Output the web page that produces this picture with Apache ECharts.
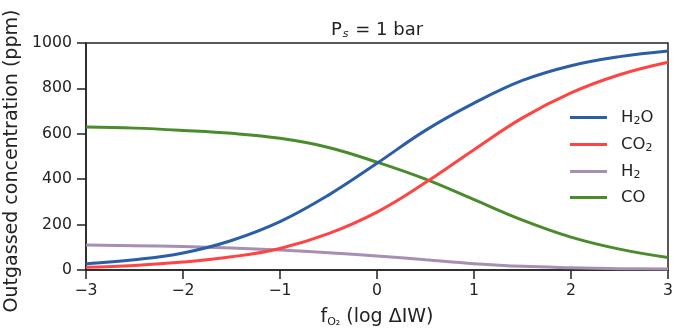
<!DOCTYPE html>
<html><head><meta charset="utf-8">
<script src="https://cdn.jsdelivr.net/npm/echarts@6/dist/echarts.min.js"></script>
<style>html,body{margin:0;padding:0;background:#fff}#c{width:681px;height:332px}</style>
</head><body><div id="c"></div>
<script>
const xs   = [-3, -2.5, -2, -1.5, -1, -0.5, 0, 0.5, 1, 1.5, 2, 2.5, 3];
const h2o  = [28, 45, 75, 130, 213, 330, 470, 615, 735, 835, 900, 940, 965];
const co2  = [12, 20, 35, 58, 95, 160, 255, 385, 530, 670, 780, 860, 915];
const h2   = [110, 107, 103, 97, 88, 76, 62, 45, 28, 16, 10, 6, 4];
const co   = [630, 625, 615, 602, 580, 540, 475, 400, 310, 220, 145, 92, 55];
const xTicks = [-3, -2, -1, 0, 1, 2, 3];
const names = ['H2O', 'CO2', 'H2', 'CO'];
const colors = ['#2a5fa8', '#ff4444', '#a58fb3', '#4a8b2c'];
const labelsRich = {
  'H2O': '{g|}{n|H}{s|2}{n|O}',
  'CO2': '{g|}{n|CO}{s|2}',
  'H2': '{g|}{n|H}{s|2}',
  'CO': '{g|}{n|CO}'
};
const F = 'DejaVu Sans';
const pairs = a => xs.map((x, i) => [x, a[i]]);
const seriesData = [h2o, co2, h2, co];
const chart = echarts.init(document.getElementById('c'), null, {renderer: 'canvas'});
chart.setOption({
  animation: false,
  backgroundColor: '#fff',
  title: {
    text: '{n|P}{s|s}{n| = 1 bar}',
    left: 377, top: 20, textAlign: 'center', padding: 0,
    textStyle: {
      fontWeight: 'normal',
      rich: {
        n: {fontFamily: F, fontSize: 18, fontWeight: 'normal', color: '#222', lineHeight: 20},
        s: {fontFamily: F, fontSize: 11, fontWeight: 'normal', fontStyle: 'italic', color: '#222', padding: [9, 1, 0, 1], lineHeight: 20}
      }
    }
  },
  grid: {left: 86, right: 13, top: 43, bottom: 62, show: true, borderColor: '#222', borderWidth: 1.5,
    backgroundColor: 'transparent', containLabel: false, outerBoundsMode: 'none'},
  legend: {
    orient: 'vertical', left: 570, top: 108, padding: 0, itemWidth: 37, itemHeight: 3, itemGap: 8,
    icon: 'rect',
    data: names,
    formatter: n => labelsRich[n],
    textStyle: {
      fontFamily: F, fontSize: 16.5, color: '#222',
      rich: {
        g: {width: 9, lineHeight: 18},
        n: {fontFamily: F, fontSize: 16.5, color: '#222', lineHeight: 18},
        s: {fontFamily: F, fontSize: 11, color: '#222', padding: [8, 0, 0, 0], lineHeight: 18}
      }
    }
  },
  xAxis: {
    type: 'value', min: -3, max: 3, interval: 1,
    name: '{n|f}{s|O₂}{n| (log ΔIW)}',
    nameLocation: 'middle', nameGap: 36,
    nameTextStyle: {
      rich: {
        n: {fontFamily: F, fontSize: 19, color: '#222', lineHeight: 22},
        s: {fontFamily: F, fontSize: 11, color: '#222', padding: [10, 0, 0, 0], lineHeight: 22}
      }
    },
    axisLine: {show: true, onZero: false, lineStyle: {color: '#222', width: 1.5}},
    axisTick: {show: true, inside: false, length: 9, lineStyle: {color: '#222', width: 1.5}},
    axisLabel: {fontFamily: F, fontSize: 15.7, color: '#222', margin: 13,
      formatter: v => (v < 0 ? '\u2212' + Math.abs(v) : String(v))},
    splitLine: {show: false}
  },
  yAxis: {
    type: 'value', min: 0, max: 1000, interval: 200,
    name: 'Outgassed concentration (ppm)',
    nameLocation: 'middle', nameGap: 58,
    nameTextStyle: {fontFamily: F, fontSize: 19, color: '#222', padding: [0, 9, 0, 0]},
    axisLine: {show: true, onZero: false, lineStyle: {color: '#222', width: 1.5}},
    axisTick: {show: true, inside: false, length: 9, lineStyle: {color: '#222', width: 1.5}},
    axisLabel: {fontFamily: F, fontSize: 15.7, color: '#222', margin: 14, formatter: v => String(v)},
    splitLine: {show: false}
  },
  series: names.map((n, i) => ({
    name: n, type: 'line', data: pairs(seriesData[i]), smooth: 0.4,
    showSymbol: false, symbol: 'none',
    lineStyle: {color: colors[i], width: 3},
    itemStyle: {color: colors[i]},
    z: 10 - i
  }))
});
</script></body></html>
